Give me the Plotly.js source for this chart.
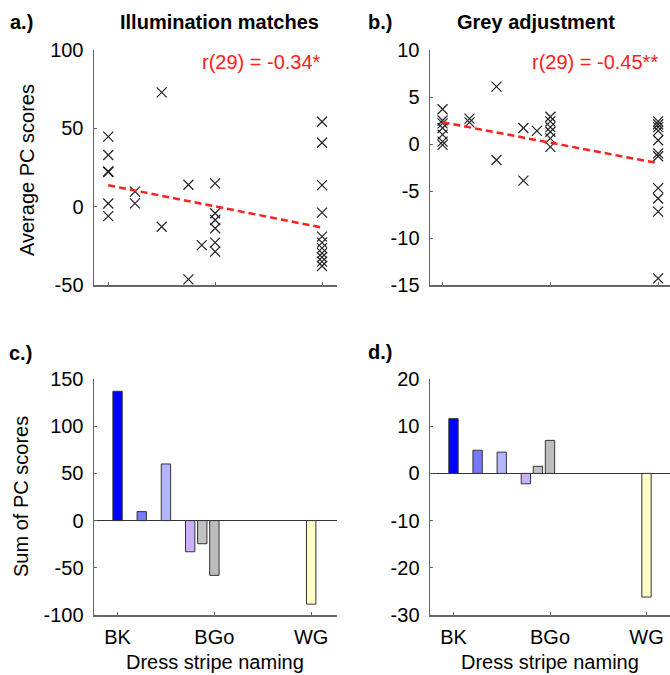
<!DOCTYPE html>
<html>
<head>
<meta charset="utf-8">
<script src="https://cdn.plot.ly/plotly-3.0.1.min.js"></script>
<style>html,body{margin:0;padding:0;background:#fff;}#chart{width:670px;height:675px;}</style>
</head>
<body>
<div id="chart"></div>
<script>
// ---- data ----
const namingLevels = [1, 1.75, 2.5, 3.25, 3.625, 4, 7];
const illumScores = [
  [44.7, 33, 22.3, 22.3, 22.3, 2, -6],
  [9.6, 2.1],
  [73, -12.8],
  [14, -46.4],
  [-24.5],
  [14.9, -4.2, -8.5, -13.8, -23, -28.7],
  [54.2, 40.8, 13.8, -3.8, -19.1, -23, -26.5, -29.7, -32.3, -35.1, -37.9]
];
const greyScores = [
  [3.7, 2.5, 2.2, 1.7, 1.0, 0.25, -0.1],
  [2.7, 2.3],
  [6.1, -1.7],
  [1.7, -3.9],
  [1.4],
  [2.9, 2.4, 1.8, 1.3, 0.6, -0.3],
  [2.4, 2.1, 1.8, 1.4, 0.4, -1.0, -1.3, -4.7, -5.8, -7.2, -14.3]
];
const sumIllum = [137, 9.5, 60, -33, -24.5, -58, -88.5];
const sumGrey = [11.6, 4.9, 4.5, -2.2, 1.5, 7.0, -26.2];
const barColors = ['#0000ff', '#7878ff', '#b4b4ff', '#c8b0ff', '#c2c2c2', '#bdbdbd', '#ffffc8'];
const namingTickVals = [1, 4, 7];
const namingTickText = ['BK', 'BGo', 'WG'];
const yTicksA = [-50, 0, 50, 100];
const yTicksB = [-15, -10, -5, 0, 5, 10];
const yTicksC = [-100, -50, 0, 50, 100, 150];
const yTicksD = [-30, -20, -10, 0, 10, 20];
const corrText = ['r(29) = -0.34*', 'r(29) = -0.45**'];

// ---- helpers ----
function flatten(levels, groups) {
  const xs = [], ys = [];
  groups.forEach((g, i) => g.forEach(v => { xs.push(levels[i]); ys.push(v); }));
  return {xs, ys};
}
function fit(xs, ys) {
  const n = xs.length;
  const mx = xs.reduce((a, b) => a + b, 0) / n;
  const my = ys.reduce((a, b) => a + b, 0) / n;
  let sxy = 0, sxx = 0;
  for (let i = 0; i < n; i++) { sxy += (xs[i] - mx) * (ys[i] - my); sxx += (xs[i] - mx) ** 2; }
  const b = sxy / sxx, a = my - b * mx;
  const x0 = Math.min(...xs), x1 = Math.max(...xs);
  return {x: [x0, x1], y: [a + b * x0, a + b * x1]};
}
const labels = v => v.map(t => String(t));

const A = flatten(namingLevels, illumScores);
const B = flatten(namingLevels, greyScores);
const fitA = fit(A.xs, A.ys);
const fitB = fit(B.xs, B.ys);

const markerStyle = {symbol: 'x-thin-open', size: 10, color: '#222', line: {color: '#222', width: 1.2}};
const lineStyle = {color: '#ff2020', width: 2.5, dash: '7px,4px'};

const traces = [
  {type: 'scatter', mode: 'markers', x: A.xs, y: A.ys, xaxis: 'x', yaxis: 'y', marker: markerStyle, cliponaxis: false},
  {type: 'scatter', mode: 'lines', x: fitA.x, y: fitA.y, xaxis: 'x', yaxis: 'y', line: lineStyle},
  {type: 'scatter', mode: 'markers', x: B.xs, y: B.ys, xaxis: 'x2', yaxis: 'y2', marker: markerStyle, cliponaxis: false},
  {type: 'scatter', mode: 'lines', x: fitB.x, y: fitB.y, xaxis: 'x2', yaxis: 'y2', line: lineStyle},
  {type: 'bar', x: namingLevels, y: sumIllum, xaxis: 'x3', yaxis: 'y3', width: 0.29,
   marker: {color: barColors, line: {color: '#333', width: 1}}},
  {type: 'bar', x: namingLevels, y: sumGrey, xaxis: 'x4', yaxis: 'y4', width: 0.29,
   marker: {color: barColors, line: {color: '#333', width: 1}}}
];

const W = 670, H = 675;
const px = v => v / W, py = v => 1 - v / H;
const font = {family: 'Liberation Sans, Arial, sans-serif', size: 20, color: '#000'};

function xAxis(dom, range, showLabels, anchor) {
  return {domain: dom, range: range, anchor: anchor, showline: true, linecolor: '#666', linewidth: 1.5,
    mirror: false, showgrid: false, zeroline: false, ticks: 'inside', ticklen: 3, tickcolor: '#666',
    tickmode: 'array', tickvals: namingTickVals, ticktext: showLabels ? namingTickText : ['', '', ''],
    tickfont: font, ticklabelstandoff: 3, fixedrange: true};
}
function yAxis(dom, range, ticks, anchor, zl) {
  return {domain: dom, range: range, anchor: anchor, showline: true, linecolor: '#666', linewidth: 1.5,
    mirror: false, showgrid: false, zeroline: zl, zerolinecolor: '#333', zerolinewidth: 1.5,
    ticks: 'inside', ticklen: 3, tickcolor: '#666',
    tickmode: 'array', tickvals: ticks, ticktext: labels(ticks), tickfont: font, ticklabelstandoff: 5, fixedrange: true};
}

const dxL = [px(94), px(337)], dxR = [px(430), 1];
const dyT = [py(285), py(50)], dyB = [py(615), py(379)];

const ann = (x, y, text, extra) => Object.assign({xref: 'paper', yref: 'paper', x: px(x), y: py(y), text: text,
  showarrow: false, font: font, xanchor: 'center', yanchor: 'middle'}, extra || {});

const layout = {
  width: W, height: H, margin: {l: 0, r: 0, t: 0, b: 0}, paper_bgcolor: '#fff', plot_bgcolor: '#fff',
  showlegend: false, font: font, bargap: 0,
  xaxis: xAxis(dxL, [0.6, 7.42], false, 'y'),
  yaxis: yAxis(dyT, [-50, 100], yTicksA, 'x', false),
  xaxis2: xAxis(dxR, [0.65, 7.33], false, 'y2'),
  yaxis2: yAxis(dyT, [-15, 10], yTicksB, 'x2', false),
  xaxis3: xAxis(dxL, [0.27, 7.8], true, 'y3'),
  yaxis3: yAxis(dyB, [-100, 150], yTicksC, 'x3', true),
  xaxis4: xAxis(dxR, [0.27, 7.73], true, 'y4'),
  yaxis4: yAxis(dyB, [-30, 20], yTicksD, 'x4', true),
  annotations: [
    ann(21, 22, '<b>a.)</b>'),
    ann(380, 22, '<b>b.)</b>'),
    ann(20, 353, '<b>c.)</b>'),
    ann(380, 352, '<b>d.)</b>'),
    ann(219, 22, '<b>Illumination matches</b>'),
    ann(536, 22, '<b>Grey adjustment</b>'),
    ann(323, 62, corrText[0], {xanchor: 'right', font: Object.assign({}, font, {color: '#ff2020'})}),
    ann(660, 62, corrText[1], {xanchor: 'right', font: Object.assign({}, font, {color: '#ff2020'})}),
    ann(27, 170, 'Average PC scores', {textangle: -90}),
    ann(21, 497, 'Sum of PC scores', {textangle: -90}),
    ann(215, 662, 'Dress stripe naming'),
    ann(550, 662, 'Dress stripe naming')
  ]
};

Plotly.newPlot('chart', traces, layout, {staticPlot: true, displayModeBar: false});
</script>
</body>
</html>
